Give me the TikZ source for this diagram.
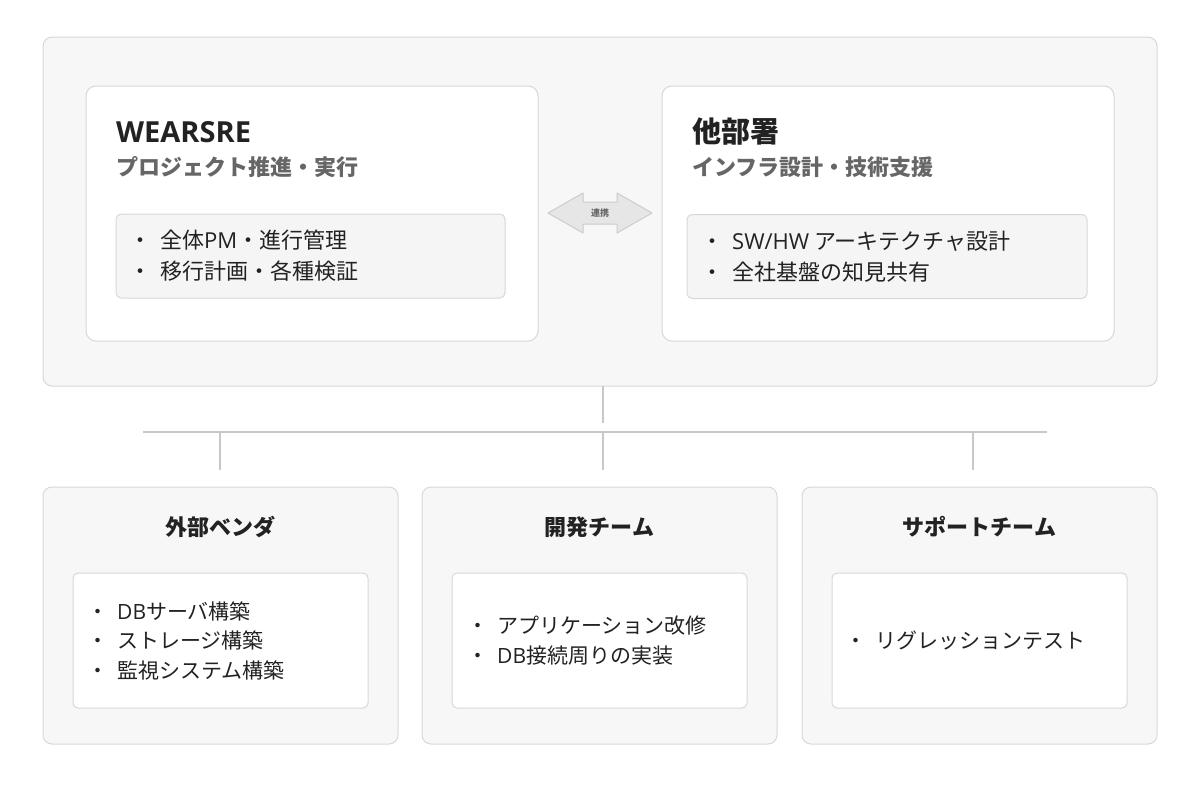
\documentclass[tikz,border=0pt]{standalone}
\usepackage{fontspec}
\setmainfont{Noto Sans CJK JP}
\newfontfamily\latinfont{Open Sans}

\definecolor{panelgray}{HTML}{F7F7F7}
\definecolor{edgegray}{HTML}{D8D8D8}
\definecolor{listgray}{HTML}{F5F5F5}
\definecolor{wiregray}{HTML}{C8C8C8}
\definecolor{inkdark}{HTML}{222222}
\definecolor{inkgray}{HTML}{666666}
\definecolor{arrowfill}{HTML}{E6E6E6}
\definecolor{arrowedge}{HTML}{CCCCCC}

\tikzset{
  box/.style={rectangle, inner sep=0pt, outer sep=0pt, line width=1pt},
  panel/.style={box, draw=edgegray, fill=panelgray, rounded corners=9pt},
  card/.style={box, draw=edgegray, fill=white, rounded corners=10pt},
  listbox/.style={box, draw=edgegray, fill=listgray, rounded corners=5pt},
  itembox/.style={box, draw=edgegray, fill=white, rounded corners=5pt},
  wire/.style={draw=wiregray, line width=1.5pt},
  linkarrow/.style={draw=arrowedge, fill=arrowfill, line width=1pt, line join=round},
  maintitle/.style={anchor=base west, inner sep=0pt, text=inkdark,
    font=\fontsize{29}{34}\selectfont\bfseries},
  subtitle/.style={anchor=base west, inner sep=0pt, text=inkgray,
    font=\fontsize{22}{28}\selectfont\bfseries},
  teamtitle/.style={anchor=base, inner sep=0pt, text=inkdark,
    font=\fontsize{22}{26}\selectfont\bfseries},
  items/.style={anchor=west, inner sep=0pt, align=left, text=inkdark,
    font=\fontsize{21}{29.5}\selectfont},
  topitems/.style={items, font=\fontsize{22}{31}\selectfont},
}

\begin{document}
\begin{tikzpicture}[x=1pt, y=-1pt]
  \useasboundingbox (0,0) rectangle (1200,795);

  % upper panel
  \node[panel, minimum width=1114pt, minimum height=349pt] (top) at (600,211.5) {};
  \node[card, minimum width=452pt, minimum height=255pt] (cardL) at (312,213.5) {};
  \node[card, minimum width=452pt, minimum height=255pt] (cardR) at (888,213.5) {};
  \node[listbox, minimum width=389pt, minimum height=84pt] (listL) at (310.5,256) {};
  \node[listbox, minimum width=400pt, minimum height=84pt] (listR) at (887,256.5) {};

  \node[maintitle] (wearTitle) at (116,142) {{\latinfont WEARSRE}};
  \node[subtitle] (wearSub) at (116,175) {プロジェクト推進・実行};
  \node[topitems] (wearItems) at ([xshift=13pt]listL.west)
    {・\hspace{9pt}全体{\latinfont PM}・進行管理\\・\hspace{9pt}移行計画・各種検証};

  \node[maintitle] (otherTitle) at (692,142) {他部署};
  \node[subtitle] (otherSub) at (692,175) {インフラ設計・技術支援};
  \node[topitems] (otherItems) at ([xshift=14pt]listR.west)
    {・\hspace{9pt}{\latinfont SW/HW} アーキテクチャ設計\\・\hspace{9pt}全社基盤の知見共有};

  % link between the two cards
  \draw[linkarrow] (548,213) -- (583,193) -- (583,202) -- (617,202) -- (617,193)
    -- (652,213) -- (617,233) -- (617,224) -- (583,224) -- (583,233) -- cycle;
  \node[inner sep=0pt, text=inkgray, font=\fontsize{9}{10}\selectfont\bfseries] (linkLabel) at (600,213) {連携};

  % lower panels
  \foreach \name/\x in {vendor/220.5, dev/599.5, support/979.5} {
    \node[panel, minimum width=355pt, minimum height=257pt] (\name) at (\x,615.5) {};
    \node[itembox, minimum width=295pt, minimum height=135pt] (\name In) at (\x,640.5) {};
  }
  \node[teamtitle] (vendorTitle) at (220.5,535) {外部ベンダ};
  \node[teamtitle] (devTitle) at (599.5,535) {開発チーム};
  \node[teamtitle] (supportTitle) at (979.5,535) {サポートチーム};

  \node[items] (vendorItems) at ([xshift=14pt]vendorIn.west)
    {・\hspace{9pt}{\latinfont DB}サーバ構築\\・\hspace{9pt}ストレージ構築\\・\hspace{9pt}監視システム構築};
  \node[items] (devItems) at ([xshift=15pt]devIn.west)
    {・\hspace{9pt}アプリケーション改修\\・\hspace{9pt}{\latinfont DB}接続周りの実装};
  \node[items] (supportItems) at ([xshift=13pt]supportIn.west)
    {・\hspace{9pt}リグレッションテスト};

  % tree lines
  \coordinate (joinC) at (603,423);
  \coordinate (busL) at (143,432);
  \coordinate (busR) at (1047,432);
  \draw[wire] (top.south -| joinC) -- (joinC);
  \draw[wire] (busL) -- (busR);
  \foreach \name/\x in {vendor/220, dev/603, support/973} {
    \coordinate (\name Drop) at (\x,470);
    \draw[wire] (busL -| \name Drop) -- (\name Drop);
  }
\end{tikzpicture}
\end{document}
